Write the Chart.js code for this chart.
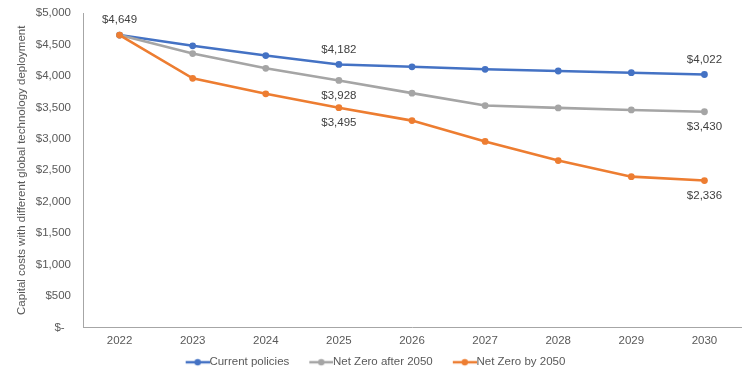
<!DOCTYPE html>
<html><head><meta charset="utf-8">
<script src="https://cdn.jsdelivr.net/npm/chart.js@4"></script>
<style>html,body{margin:0;padding:0;background:#fff}#wrap{width:754px;height:378px}</style>
</head><body><div id="wrap"><canvas id="c" width="754" height="378"></canvas></div>
<script>
const years = ['2022','2023','2024','2025','2026','2027','2028','2029','2030'];
const currentPolicies = [4649, 4478, 4323, 4182, 4145, 4105, 4078, 4051, 4022];
const netZeroAfter2050 = [4649, 4355, 4121, 3928, 3726, 3529, 3491, 3459, 3430];
const netZeroBy2050   = [4649, 3961, 3715, 3495, 3289, 2958, 2654, 2398, 2336];
const seriesNames = ['Current policies', 'Net Zero after 2050', 'Net Zero by 2050'];
const seriesColors = ['#4472C4', '#A5A5A5', '#ED7D31'];
const yAxisTitle = 'Capital costs with different global technology deployment';
// which points carry a value label, and on which side
const labelledPoints = [
  {series: 2, index: 0, side: 'above'},
  {series: 0, index: 3, side: 'above'},
  {series: 1, index: 3, side: 'below'},
  {series: 2, index: 3, side: 'below'},
  {series: 0, index: 8, side: 'above'},
  {series: 1, index: 8, side: 'below'},
  {series: 2, index: 8, side: 'below'}
];

const FONT = 'Liberation Sans, Arial, sans-serif';
const TEXT = '#595959';

function makeMarker(color) {
  const c = document.createElement('canvas');
  c.width = 40; c.height = 10;
  const g = c.getContext('2d');
  g.strokeStyle = color; g.lineWidth = 2.5;
  g.beginPath(); g.moveTo(16, 5); g.lineTo(40, 5); g.stroke();
  g.fillStyle = color;
  g.beginPath(); g.arc(28, 5, 3.2, 0, Math.PI * 2); g.fill();
  return c;
}
const markers = seriesColors.map(makeMarker);

const fmt = v => '$' + Number(v).toLocaleString('en-US');

const valueLabels = {
  id: 'valueLabels',
  afterDatasetsDraw(chart) {
    const ctx = chart.ctx;
    ctx.save();
    ctx.font = '11.5px ' + FONT;
    ctx.fillStyle = '#404040';
    ctx.textAlign = 'center';
    ctx.textBaseline = 'middle';
    labelledPoints.forEach(p => {
      const meta = chart.getDatasetMeta(p.series);
      const el = meta.data[p.index];
      const v = chart.data.datasets[p.series].data[p.index];
      const dy = p.side === 'above' ? -15 : 15;
      ctx.fillText(fmt(v), el.x, el.y + dy);
    });
    ctx.restore();
  }
};

const seriesData = [currentPolicies, netZeroAfter2050, netZeroBy2050];
const datasets = seriesData.map((d, i) => ({
  label: seriesNames[i],
  data: d,
  borderColor: seriesColors[i],
  backgroundColor: seriesColors[i],
  pointBackgroundColor: seriesColors[i],
  pointBorderColor: seriesColors[i],
  borderWidth: 2.6,
  pointRadius: 3.4,
  pointBorderWidth: 0,
  tension: 0,
  order: 2 - i
}));

new Chart(document.getElementById('c'), {
  type: 'line',
  data: { labels: years, datasets },
  options: {
    responsive: false,
    animation: false,
    layout: { padding: { left: 0, right: 13, top: 13, bottom: 0 } },
    plugins: {
      tooltip: { enabled: false },
      legend: {
        position: 'bottom',
        labels: {
          usePointStyle: true,
          pointStyleWidth: 28,
          padding: 10,
          color: TEXT,
          font: { family: FONT, size: 11.5 },
          generateLabels(chart) {
            const items = Chart.defaults.plugins.legend.labels.generateLabels(chart);
            items.sort((a, b) => a.datasetIndex - b.datasetIndex);
            items.forEach(it => { it.pointStyle = markers[it.datasetIndex]; });
            return items;
          }
        }
      }
    },
    scales: {
      x: {
        type: 'category',
        offset: true,
        grid: { display: false, drawTicks: false },
        border: { display: true, color: '#a6a6a6', width: 1 },
        ticks: { padding: 6, color: TEXT, font: { family: FONT, size: 11.5 }, maxRotation: 0, autoSkip: false },
        afterFit(s) { s.height = 19; }
      },
      y: {
        min: 0, max: 5000,
        grid: { display: false, drawTicks: false },
        border: { display: true, color: '#a6a6a6', width: 1 },
        ticks: {
          stepSize: 500, padding: 12, color: TEXT,
          font: { family: FONT, size: 11.5 },
          callback: v => v === 0 ? '$-  ' : fmt(v)
        },
        title: {
          display: true, text: yAxisTitle, color: TEXT,
          font: { family: FONT, size: 11.5 },
          padding: { top: 15, bottom: 0 }
        },
        afterFit(s) { s.width = 83; s.paddingTop = 0; s.paddingBottom = 0; }
      }
    }
  },
  plugins: [valueLabels]
});
</script>
</body></html>
